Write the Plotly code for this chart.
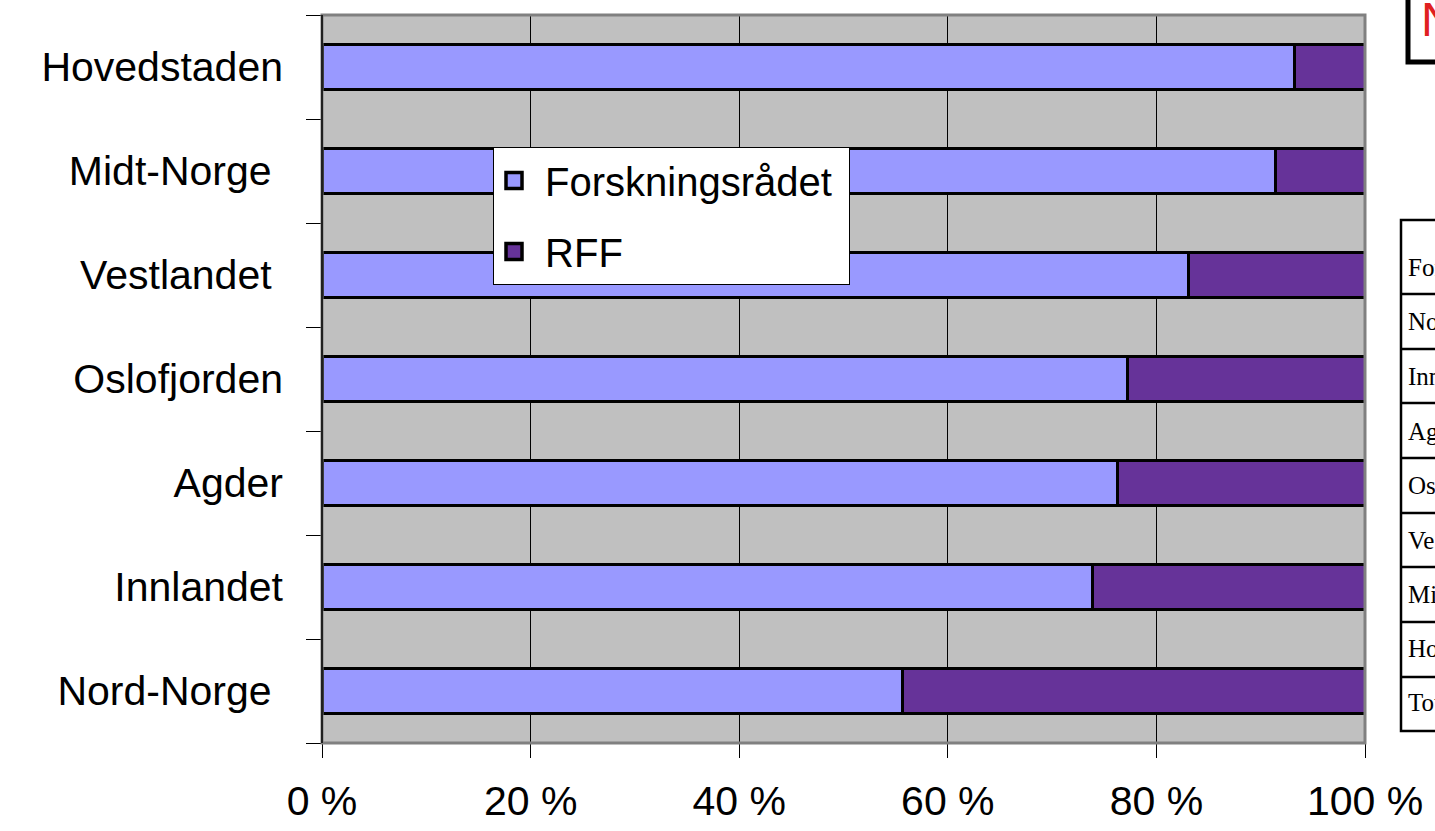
import plotly.graph_objects as go

regions = ["Hovedstaden", "Midt-Norge\u00a0", "Vestlandet\u00a0", "Oslofjorden",
           "Agder", "Innlandet", "Nord-Norge\u00a0"]
forskningsradet = [93.2, 91.4, 83.1, 77.2, 76.3, 73.9, 55.7]
rff = [round(100 - v, 1) for v in forskningsradet]
x_ticks = [0, 20, 40, 60, 80, 100]
x_ticklabels = ["0 %", "20 %", "40 %", "60 %", "80 %", "100 %"]
table_rows = ["Forskningsrådet", "Nord-Norge", "Innlandet", "Agder", "Oslofjorden",
              "Vestlandet", "Midt-Norge", "Hovedstaden", "Totalt"]

W, H = 1435, 831
L, R, T, B = 322, 1365, 15, 743

def px(p):
    return (p - L) / (R - L)

def py(p):
    return (B - p) / (B - T)

FONT = "Arial, Liberation Sans, sans-serif"
C1 = "#9999FF"
C2 = "#663399"

fig = go.Figure()
fig.add_trace(go.Bar(y=regions, x=forskningsradet, orientation="h", name="Forskningsrådet",
                     marker=dict(color=C1, line=dict(color="black", width=3)),
                     showlegend=False))
fig.add_trace(go.Bar(y=regions, x=rff, orientation="h", name="RFF",
                     marker=dict(color=C2, line=dict(color="black", width=3)),
                     showlegend=False))
# legend entries
fig.add_trace(go.Scatter(x=[None], y=[None], mode="markers",
                         name="\u00a0Forskningsrådet\u00a0",
                         legendgroup="a", legendrank=1,
                         marker=dict(symbol="square", size=21, color=C1,
                                     line=dict(color="black", width=3.5))))
fig.add_trace(go.Scatter(x=[None], y=[None], mode="markers", name="\u00a0RFF",
                         legendgroup="b", legendrank=2,
                         marker=dict(symbol="square", size=21, color=C2,
                                     line=dict(color="black", width=3.5))))

shapes = []
# plot border (gray top/right/bottom, black left)
shapes.append(dict(type="rect", xref="paper", yref="paper", x0=0, x1=1, y0=0, y1=1,
                   line=dict(color="#808080", width=3), layer="above"))
shapes.append(dict(type="line", xref="paper", yref="paper", x0=0, x1=0, y0=0, y1=1,
                   line=dict(color="black", width=1.5), layer="above"))

# data table on the right (clipped by page edge)
row_lines = [220, 294, 349, 403, 458, 513, 567, 622, 677, 731]
shapes.append(dict(type="rect", xref="paper", yref="paper", x0=px(1401), x1=px(1470),
                   y0=py(731), y1=py(220), line=dict(color="black", width=2.5)))
for yl in row_lines[1:-1]:
    shapes.append(dict(type="line", xref="paper", yref="paper", x0=px(1401), x1=px(1470),
                       y0=py(yl), y1=py(yl), line=dict(color="black", width=2.5)))
# note box top-right
shapes.append(dict(type="rect", xref="paper", yref="paper", x0=px(1408), x1=px(1480),
                   y0=py(62), y1=py(-20), line=dict(color="black", width=5)))

annotations = []
row_text_y = [267, 322, 376, 431, 486, 540, 594, 648, 702]
for txt, yy in zip(table_rows, row_text_y):
    annotations.append(dict(xref="paper", yref="paper", x=px(1406), y=py(yy), text=txt,
                            showarrow=False, xanchor="left", yanchor="middle",
                            font=dict(family="Liberation Serif, Times New Roman, serif",
                                      size=25, color="black")))
annotations.append(dict(xref="paper", yref="paper", x=px(1419), y=py(20), text="N",
                        showarrow=False, xanchor="left", yanchor="middle",
                        font=dict(family=FONT, size=48, color="#E02020")))

fig.update_layout(
    width=W, height=H,
    margin=dict(l=L, r=W - R, t=T, b=H - B, pad=0, autoexpand=False),
    barmode="stack", bargap=0.56,
    paper_bgcolor="white", plot_bgcolor="#C0C0C0",
    font=dict(family=FONT, size=41, color="black"),
    showlegend=True,
    legend=dict(x=px(493), y=py(147), xanchor="left", yanchor="top",
                bgcolor="white", bordercolor="black", borderwidth=1,
                traceorder="grouped", tracegroupgap=16,
                font=dict(family=FONT, size=40, color="black")),
    xaxis=dict(range=[0, 100], tickvals=x_ticks, ticktext=x_ticklabels,
               showgrid=True, gridcolor="black", gridwidth=1,
               ticks="outside", ticklen=14, tickcolor="black", tickwidth=1,
               ticklabelstandoff=8, showline=False, zeroline=False, automargin=False,
               tickfont=dict(size=41)),
    yaxis=dict(categoryorder="array", categoryarray=regions[::-1],
               tickson="boundaries", ticks="outside", ticklen=15, tickcolor="black",
               tickwidth=1, showgrid=False, showline=False, zeroline=False,
               automargin=False, ticklabelstandoff=38, tickfont=dict(size=41)),
    shapes=shapes, annotations=annotations,
)

fig.write_html("out.html", config={"displayModeBar": False},
               post_script="document.body.style.margin='0';document.body.style.overflow='hidden';")
